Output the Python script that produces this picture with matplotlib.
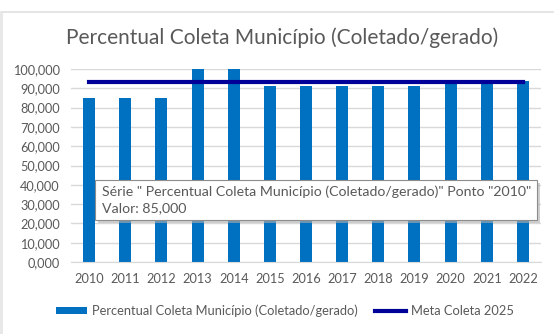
import matplotlib.pyplot as plt
from matplotlib.patches import Rectangle
from matplotlib.lines import Line2D

anos = ['2010', '2011', '2012', '2013', '2014', '2015', '2016',
        '2017', '2018', '2019', '2020', '2021', '2022']
percentual = [85, 85, 85, 100, 100, 91, 91, 91, 91, 91, 92.6, 92.6, 93.9]
meta_2025 = [93.3] * len(anos)
y_ticks = [0, 10, 20, 30, 40, 50, 60, 70, 80, 90, 100]

BAR_COLOR = '#0070C0'
LINE_COLOR = '#000099'
TEXT_COLOR = '#595959'
GRID_COLOR = '#d9d9d9'

plt.rcParams['font.family'] = ['Lato', 'DejaVu Sans']

W, H = 555, 334
fig = plt.figure(figsize=(W / 100, H / 100), dpi=100)


def px(x, y):
    """Pixel position (from top-left) to figure fraction."""
    return x / W, 1 - y / H


# chart frame: top rule and left strip
fig.add_artist(Line2D([3 / W, 553 / W], [1 - 11.5 / H] * 2, color='#e0e0e0', lw=1.2))
fig.add_artist(Rectangle((0, 0), 3 / W, 1 - 11 / H, color='#e8e8e8', lw=0))

left, right, top, bottom = 71, 541, 69, 262
ax = fig.add_axes([left / W, 1 - bottom / H, (right - left) / W, (bottom - top) / H])

x = range(len(anos))
bars = ax.bar(x, percentual, width=0.33, color=BAR_COLOR, zorder=2,
              label='Percentual Coleta Município (Coletado/gerado)')
line, = ax.plot(x, meta_2025, color=LINE_COLOR, lw=3, zorder=3,
                label='Meta Coleta 2025')

ax.set_xlim(-0.5, len(anos) - 0.5)
ax.set_ylim(0, 100)
ax.set_yticks(y_ticks)
ax.set_yticklabels([f'{v:.3f}'.replace('.', ',') for v in y_ticks])
ax.set_xticks(list(x))
ax.set_xticklabels(anos)
ax.tick_params(length=0, labelsize=9.2, colors=TEXT_COLOR)
ax.tick_params(axis='x', pad=8)
ax.tick_params(axis='y', pad=8)
ax.grid(axis='y', color=GRID_COLOR, lw=1, zorder=0)
for s in ax.spines.values():
    s.set_visible(False)
ax.spines['bottom'].set_visible(True)
ax.spines['bottom'].set_color(GRID_COLOR)

fig.text(*px(282, 38), 'Percentual Coleta Município (Coletado/gerado)',
         ha='center', va='center', fontsize=15, color=TEXT_COLOR)

leg = fig.legend(handles=[bars, line], loc='center', bbox_to_anchor=px(285, 311),
                 ncol=2, frameon=False, fontsize=9.3, handlelength=2.4,
                 handleheight=0.45, handletextpad=0.35, columnspacing=1.4)
for t in leg.get_texts():
    t.set_color(TEXT_COLOR)

# hover tooltip for the 2010 point
bx0, by0, bx1, by1 = 95, 180, 537, 220
fx0, fy1 = px(bx0, by0)
fx1, fy0 = px(bx1, by1)
fig.add_artist(Rectangle((fx0 + 3 / W, fy0 - 3 / H), fx1 - fx0, fy1 - fy0,
                         color='#b0b0b0', alpha=0.6, lw=0, zorder=5))
fig.add_artist(Rectangle((fx0, fy0), fx1 - fx0, fy1 - fy0, facecolor='white',
                         edgecolor='#8c8c8c', lw=0.8, zorder=6))
fig.text(*px(102, 192), 'Série " Percentual Coleta Município (Coletado/gerado)" Ponto "2010"',
         ha='left', va='center', fontsize=10.2, color=TEXT_COLOR, zorder=7)
fig.text(*px(102, 208), 'Valor: 85,000',
         ha='left', va='center', fontsize=10.2, color=TEXT_COLOR, zorder=7)

fig.savefig('out.png', dpi=100)
